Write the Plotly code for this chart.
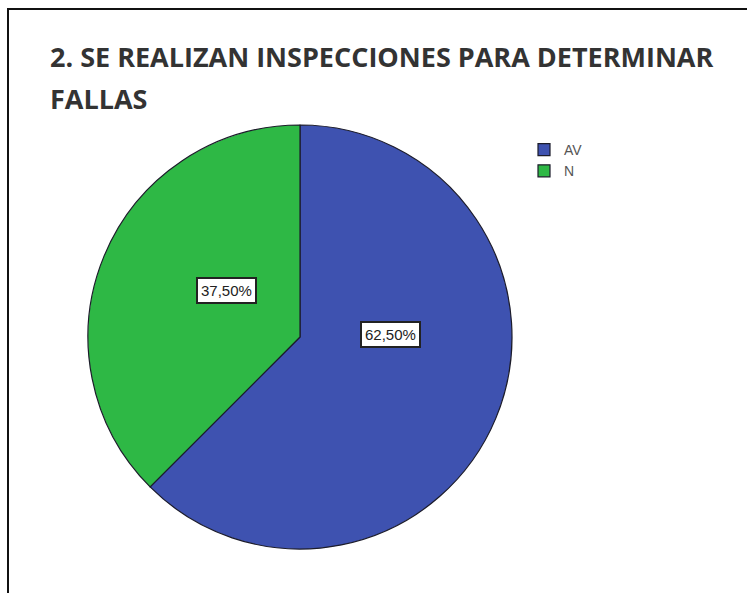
import plotly.graph_objects as go

labels = ["AV", "N"]
values = [62.5, 37.5]
colors = ["#3E52B0", "#2EB845"]
title_lines = ["2. SE REALIZAN INSPECCIONES PARA DETERMINAR", "FALLAS"]

W, H = 747, 593
cx, cy, r = 300, 337, 212

fig = go.Figure()
fig.add_trace(go.Pie(
    labels=labels, values=values, sort=False, direction="clockwise", rotation=0,
    marker=dict(colors=colors, line=dict(color="#1c1c2a", width=1.2)),
    textinfo="none", hoverinfo="label+percent",
    domain=dict(x=[(cx - r) / W, (cx + r) / W], y=[(H - cy - r) / H, (H - cy + r) / H]),
))

label_pos = [(390, 334), (196, 290)]
for v, (px, py) in zip(values, label_pos):
    fig.add_annotation(
        x=px / W, y=1 - py / H, xref="paper", yref="paper",
        text=f"{v:.2f}%".replace(".", ","), showarrow=False,
        font=dict(family="Liberation Sans, Arial", size=15, color="#222"),
        bgcolor="white", bordercolor="#222", borderwidth=2, borderpad=3,
    )

title_y = [36, 78]
for line, ty in zip(title_lines, title_y):
    fig.add_annotation(
        x=48 / W, y=1 - ty / H, xref="paper", yref="paper", xanchor="left", yanchor="top",
        text="<b>" + line + "</b>", showarrow=False, align="left",
        font=dict(family="Open Sans", size=27, color="#333"),
    )

fig.add_shape(type="rect", xref="paper", yref="paper",
              x0=8 / W, x1=1.02, y0=-0.02, y1=1 - 9 / H,
              line=dict(color="#111", width=2), fillcolor="rgba(0,0,0,0)")

fig.update_layout(
    width=W, height=H, margin=dict(l=0, r=0, t=0, b=0),
    paper_bgcolor="white", plot_bgcolor="white",
    showlegend=True,
    legend=dict(x=524 / W, y=1 - 134 / H, xanchor="left", yanchor="top",
                font=dict(family="Liberation Sans, Arial", size=14, color="#555"),
                itemwidth=30, tracegroupgap=0, bgcolor="rgba(0,0,0,0)"),
)

fig.write_html("out.html")
